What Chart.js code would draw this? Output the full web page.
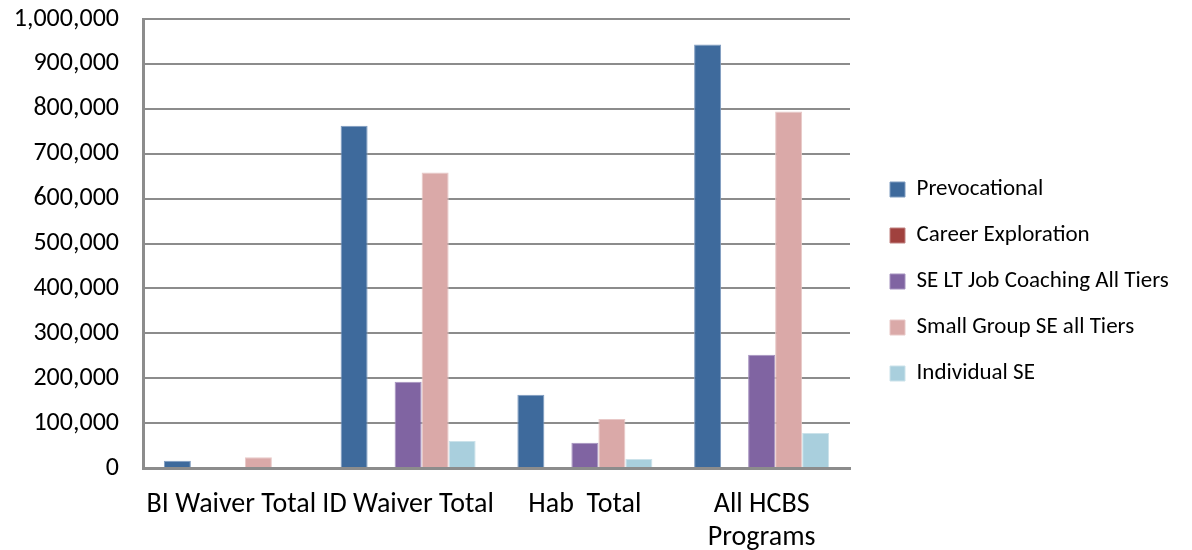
<!DOCTYPE html>
<html>
<head>
<meta charset="utf-8">
<script src="https://cdn.jsdelivr.net/npm/chart.js@4.4.0/dist/chart.umd.min.js"></script>
<style>
html,body{margin:0;padding:0;background:#fff;}
#wrap{width:1192px;height:550px;position:relative;}
</style>
</head>
<body>
<div id="wrap"><canvas id="c" width="1192" height="550"></canvas></div>
<script>
const categories = ["BI Waiver Total", "ID Waiver Total", "Hab  Total", ["All HCBS", "Programs"]];
const seriesNames = ["Prevocational", "Career Exploration", "SE LT Job Coaching All Tiers", "Small Group SE all Tiers", "Individual SE"];
const prevocational = [16000, 762000, 163000, 943000];
const careerExploration = [0, 0, 0, 0];
const seLtJobCoaching = [0, 192000, 56000, 252000];
const smallGroupSE = [24000, 658000, 109000, 794000];
const individualSE = [0, 60000, 20000, 78000];
const yTicks = [0, 100000, 200000, 300000, 400000, 500000, 600000, 700000, 800000, 900000, 1000000];

const colors = ["#3E6A9C", "#A0413E", "#8064A2", "#DAA9A8", "#A9CFDD"];
const borders = ["#7F9CC0", "#C08280", "#A592BF", "#E8C8C7", "#CBE2EA"];
const values = [prevocational, careerExploration, seLtJobCoaching, smallGroupSE, individualSE];

const FONT = "Carlito, Calibri, 'Liberation Sans Narrow', 'Open Sans', sans-serif";

const legendTweak = {
  id: 'legendTweak',
  afterInit(chart) {
    const lg = chart.legend;
    if (!lg) return;
    const orig = lg.fit.bind(lg);
    lg.fit = function () { orig(); this.width = 342; };
  },
  afterLayout(chart) {
    const lg = chart.legend;
    if (!lg) return;
    const dx = 867 - lg.left;
    lg.left += dx; lg.right += dx;
    lg.top -= 3; lg.bottom -= 3;
  }
};

new Chart(document.getElementById('c'), {
  type: 'bar',
  data: {
    labels: categories,
    datasets: seriesNames.map((n, i) => ({
      label: n,
      data: values[i],
      backgroundColor: colors[i],
      borderColor: borders[i],
      borderWidth: 1,
      categoryPercentage: 0.764,
      barPercentage: 1.0
    }))
  },
  plugins: [legendTweak],
  options: {
    responsive: false,
    animation: false,
    layout: { padding: { top: 19, right: 0, left: 10, bottom: 0 } },
    plugins: {
      legend: {
        position: 'right',
        labels: {
          boxWidth: 15, boxHeight: 15, padding: 23,
          color: '#000',
          font: { family: FONT, size: 23 }
        }
      },
      tooltip: { enabled: false }
    },
    scales: {
      x: {
        grid: { display: false },
        border: { color: '#8C8C8C', width: 3 },
        afterFit: (axis) => { axis.height = 82; },
        ticks: { color: '#000', font: { family: FONT, size: 28 }, padding: 12, maxRotation: 0, autoSkip: false }
      },
      y: {
        min: 0, max: 1000000,
        afterBuildTicks: (axis) => { axis.ticks = yTicks.map(v => ({ value: v })); },
        afterFit: (axis) => { axis.width = 133; axis.paddingTop = 0; axis.paddingBottom = 0; },
        grid: { color: '#8C8C8C', lineWidth: 2, drawTicks: false },
        border: { color: '#8C8C8C', width: 3 },
        ticks: {
          color: '#000', padding: 24,
          font: { family: FONT, size: 26 },
          callback: (v) => Number(v).toLocaleString('en-US')
        }
      }
    }
  }
});
</script>
</body>
</html>
